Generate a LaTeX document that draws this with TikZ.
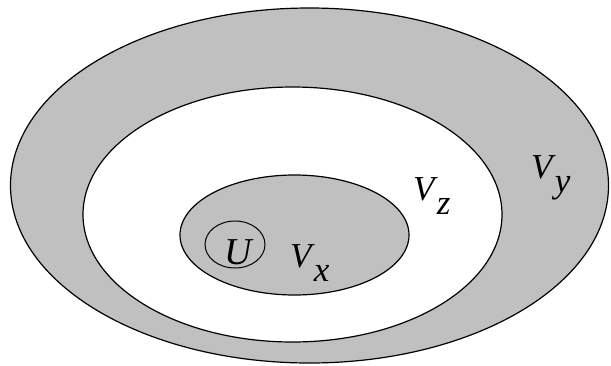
\documentclass[tikz,border=0pt]{standalone}
\usepackage{fontspec}
\setmainfont{Liberation Serif}
\usetikzlibrary{shapes.geometric}
\newcommand{\lbl}[2]{\textit{#1}\kern-1pt\raisebox{-14pt}{\textit{#2}}}
\definecolor{regiongrey}{RGB}{192,192,192}
\tikzset{
  region/.style={draw=black, line width=1.2pt},
  greyfill/.style={region, fill=regiongrey},
  whitefill/.style={region, fill=white},
  lab/.style={inner sep=0pt, anchor=base west, font=\fontsize{35}{35}\selectfont}
}
\begin{document}
\begin{tikzpicture}[x=1pt,y=-1pt]
\useasboundingbox (0,0) rectangle (611,365);
\path[greyfill] (309.5,185.5) ellipse [x radius=299, y radius=177.5];
\path[whitefill] (292.5,214.5) ellipse [x radius=209.5, y radius=127.5];
\path[greyfill] (294.5,235) ellipse [x radius=114.5, y radius=60];
\node[draw=black, line width=1pt, ellipse, minimum width=60pt, minimum height=47pt, inner sep=0pt] (u) at (235,244.5) {};
\node[inner sep=0pt, anchor=base, font=\fontsize{38}{38}\selectfont] (ulab) at (239,264) {\textit{U}};
\node[lab] (vx) at (290,267) {\lbl{V}{x}};
\node[lab] (vz) at (413,200) {\lbl{V}{z}};
\node[lab] (vy) at (531,178) {\lbl{V}{y}};
\end{tikzpicture}
\end{document}
